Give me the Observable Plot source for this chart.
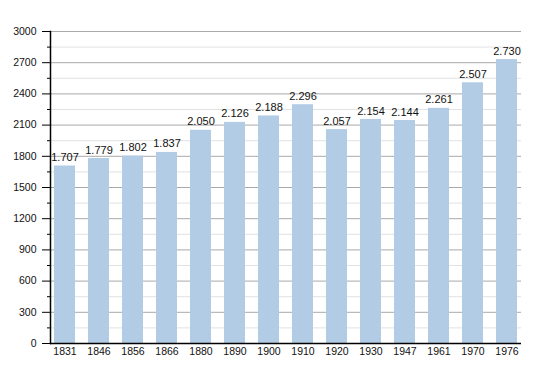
<!DOCTYPE html>
<html>
<head>
<meta charset="utf-8">
<script src="https://cdn.jsdelivr.net/npm/d3@7"></script>
<script src="https://cdn.jsdelivr.net/npm/@observablehq/plot@0.6"></script>
<style>
body { margin: 0; background: #fff; }
</style>
</head>
<body>
<div id="chart"></div>
<script>
const years = ["1831","1846","1856","1866","1880","1890","1900","1910","1920","1930","1947","1961","1970","1976"];
const population = [1707,1779,1802,1837,2050,2126,2188,2296,2057,2154,2144,2261,2507,2730];
const majorTicks = [0,300,600,900,1200,1500,1800,2100,2400,2700,3000];
const minorTicks = [150,450,750,1050,1350,1650,1950,2250,2550,2850];

const data = years.map((y, i) => ({year: y, value: population[i]}));
const fmt = d3.formatLocale({thousands: ".", grouping: [3], decimal: ",", currency: ["", ""]}).format(",");

const chart = Plot.plot({
  width: 550,
  height: 373,
  marginLeft: 50,
  marginRight: 29,
  marginTop: 31,
  marginBottom: 30,
  style: {fontFamily: "Liberation Sans, Arial, sans-serif", fontSize: "10.5px", color: "#222", background: "#fff"},
  x: {domain: years, paddingInner: 0.39, paddingOuter: 0.02, align: 0.5, label: null},
  y: {domain: [0, 3000], label: null},
  marks: [
    Plot.ruleY(minorTicks, {stroke: "#e2e2e2", strokeWidth: 1}),
    Plot.ruleY(majorTicks.filter(d => d > 0), {stroke: "#a9a9a9", strokeWidth: 1}),
    Plot.barY(data, {x: "year", y: "value", fill: "#b3cce6"}),
    Plot.text(data, {x: "year", y: "value", text: d => fmt(d.value), dy: -8.5, fill: "#111", fontSize: 11}),
    Plot.axisY(majorTicks, {tickSize: 8, tickPadding: 6, tickFormat: "d", stroke: "#000", fill: "#111", fontSize: 10.5}),
    Plot.axisY(minorTicks, {tickSize: 3, text: null, stroke: "#000"}),
    Plot.axisX({tickSize: 0, tickPadding: 4, fill: "#111", fontSize: 10.5}),
    Plot.ruleY([0], {stroke: "#000", strokeWidth: 1.5}),
    Plot.frame({anchor: "left", stroke: "#000", strokeWidth: 1.5})
  ]
});
document.getElementById("chart").appendChild(chart);
</script>
</body>
</html>
